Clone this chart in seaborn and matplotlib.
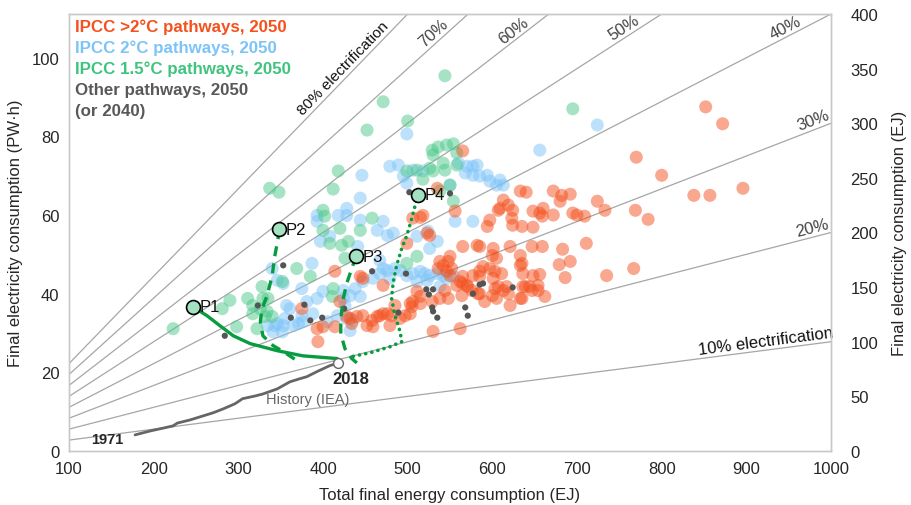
import numpy as np
import matplotlib
matplotlib.use("Agg")
import matplotlib.pyplot as plt
import seaborn as sns

sns.set_style("white")
plt.rcParams['font.family'] = ['Liberation Sans', 'DejaVu Sans']

EJ_PER_PWH = 3.6

# electrification share lines
shares = [0.1, 0.2, 0.3, 0.4, 0.5, 0.6, 0.7, 0.8]
share_labels = ["10% electrification", "20%", "30%", "40%", "50%", "60%", "70%",
                "80% electrification"]
share_label_x = [924, 980, 982, 950, 760, 630, 537, 430]
share_label_size = [12, 12, 12, 12, 12, 12, 12, 11]

# IPCC >2°C pathways (x: TFC EJ, y: electricity PWh)
above2_x = [852, 872, 770, 800, 896, 838, 857,
            633, 640, 672, 682, 680, 692, 724, 733, 769, 784,
            648, 656, 659, 672, 695, 700, 709,
            635, 648, 647, 659, 683, 711, 679, 692, 686, 735, 767,
            635, 636, 648, 656, 636, 644, 647, 654, 635, 662,
            515, 556, 597, 594, 613, 619, 623, 660, 607,
            565, 585, 601, 600, 621, 633, 633,
            611, 601, 603, 597, 589, 585, 585, 577, 565, 562, 558, 570, 576, 585, 591, 600,
            613, 607, 619, 621, 633, 654,
            550, 542, 538, 546, 550, 536, 526, 523, 499,
            538, 529, 515, 506, 505, 497, 491, 479, 481, 471, 530, 562, 503, 544, 564, 548,
            609, 624, 582, 605, 548, 552, 565, 571, 583, 603, 617, 605, 639,
            503, 464, 458, 452, 440, 434, 428, 459, 444, 420, 414, 375, 393, 400, 394, 414,
            447, 471, 432, 447, 467, 476, 485, 511, 515, 506, 518, 535, 565, 624]
above2_y = [87.5, 83.2, 74.7, 70.1, 66.8, 65.0, 65.0,
            66.1, 65.8, 66.1, 65.0, 63.5, 65.3, 63.5, 61.2, 61.2, 58.9,
            61.0, 60.5, 59.7, 60.0, 60.5, 60.0, 59.7,
            57.1, 56.9, 52.0, 52.0, 51.3, 52.8, 47.4, 48.2, 44.1, 44.6, 46.4,
            47.7, 45.1, 44.6, 44.9, 41.8, 41.8, 40.8, 42.1, 38.8, 39.3,
            59.4, 61.0, 58.7, 57.1, 63.8, 62.5, 59.2, 61.7, 61.2,
            52.0, 52.0, 51.5, 49.7, 52.0, 49.7, 47.2,
            45.1, 43.9, 45.7, 46.4, 46.9, 45.7, 44.4, 44.6, 44.4, 43.1, 42.1, 42.1, 40.8, 40.0, 38.0, 39.5,
            40.8, 41.8, 40.0, 37.0, 38.8, 40.8,
            49.5, 47.2, 48.2, 45.7, 44.6, 46.4, 54.8, 55.4, 52.8,
            38.8, 38.0, 39.3, 38.0, 36.7, 34.4, 33.7, 31.9, 34.4, 34.9, 30.4, 31.1, 37.5, 40.8, 39.5, 38.8,
            61.7, 57.4, 52.3, 49.0, 48.2, 46.4, 42.6, 41.8, 40.0, 41.3, 41.8, 38.8, 41.8,
            34.9, 34.2, 33.2, 31.9, 34.2, 32.4, 34.2, 31.6, 44.4, 38.0, 45.7, 36.2, 31.1, 31.6, 27.8, 31.6,
            43.9, 42.1, 33.7, 34.4, 34.4, 34.9, 37.0, 40.6, 37.5, 59.2, 59.9, 66.8, 76.3, 61.2]

# IPCC 2°C pathways
two_x = [499, 446, 479, 489, 495, 499, 560, 568, 577, 582, 594, 597, 609, 613, 550,
         444, 428, 656, 724, 506, 518, 570, 585, 605, 577, 418, 393, 393, 408, 397,
         387, 340, 346, 353, 375, 400, 424, 361, 355, 346, 334, 371, 375, 388, 405,
         417, 428, 381, 393, 424, 441, 467, 357, 343, 353, 365, 376, 341, 352,
         485, 491, 499, 506, 515, 520, 526, 535, 542, 546, 554, 538, 511, 523, 476,
         467, 479, 459, 447, 438, 432, 444, 426, 435, 432, 428, 444, 471, 464, 483,
         511, 524, 535, 526, 556, 577, 476, 471]
two_y = [80.6, 70.1, 72.4, 72.7, 69.9, 68.1, 73.2, 70.7, 72.4, 72.7, 70.1, 68.6, 68.9, 67.6, 67.6,
         64.3, 59.9, 76.5, 82.9, 71.4, 71.2, 72.4, 69.9, 67.6, 70.1, 59.9, 59.9, 58.4, 54.6, 53.3,
         47.7, 46.4, 43.4, 42.6, 41.3, 40.6, 40.8, 36.2, 33.7, 32.4, 31.9, 32.4, 34.4, 34.9, 32.9,
         34.4, 33.7, 38.0, 38.8, 38.8, 52.0, 48.5, 37.0, 31.9, 31.9, 31.9, 32.9, 30.3, 30.3,
         46.4, 45.9, 44.6, 45.1, 45.7, 45.1, 44.6, 45.1, 44.6, 43.9, 44.4, 41.8, 43.1, 43.4, 45.9,
         45.1, 43.9, 43.9, 43.1, 41.3, 39.5, 39.3, 37.0, 33.2, 30.6, 61.7, 58.7, 58.4, 56.1, 55.4,
         54.6, 55.9, 53.3, 51.5, 58.4, 58.4, 54.8, 46.4]

# IPCC 1.5°C pathways
one5_x = [544, 471, 500, 452, 695, 337, 348, 418, 412, 400, 402, 420, 400, 408, 369,
          385, 328, 352, 290, 317, 326, 334, 332, 317, 340, 322, 298, 281, 223, 412,
          411, 426, 422, 458, 444, 430, 499, 511, 529, 536, 546, 554, 558, 530,
          542, 526, 544, 499, 511, 518, 530, 550, 554, 538, 558, 329, 311, 335]
one5_y = [95.4, 88.8, 83.9, 81.6, 87.0, 66.8, 65.8, 71.2, 66.6, 61.2, 59.7, 56.6, 56.1, 52.8, 46.4,
          44.4, 41.8, 43.1, 38.3, 37.0, 36.2, 35.5, 34.2, 34.9, 34.2, 31.1, 31.6, 36.2, 31.1, 41.3,
          39.3, 49.0, 52.3, 59.2, 56.1, 53.3, 47.7, 49.5, 76.5, 77.3, 77.8, 78.1, 75.8, 75.3,
          73.2, 71.9, 71.4, 71.2, 71.4, 69.1, 71.2, 67.6, 63.5, 66.1, 72.7, 38.8, 38.8, 38.8]

# other pathways
other_x = [502, 550, 498, 522, 530, 525, 585, 589, 577, 568, 571, 529, 530, 535, 624,
           489, 458, 425, 353, 323, 378, 362, 385, 399, 284]
other_y = [65.8, 65.5, 45.1, 41.1, 41.1, 39.8, 42.3, 42.6, 40.0, 36.5, 34.4, 36.5, 35.5, 33.9, 41.6,
           35.2, 45.7, 36.2, 47.2, 37.0, 37.2, 33.9, 33.2, 33.9, 29.3]

# IEA history 1971-2018
hist_x = [178, 196, 213, 223, 228, 243, 255, 270, 282, 296, 305, 320, 329, 346, 361, 373, 381, 393, 408, 418]
hist_y = [4.1, 5.1, 5.9, 6.4, 7.1, 7.9, 8.7, 9.7, 10.7, 12.0, 13.3, 14.0, 14.5, 15.8, 17.6, 18.4, 18.9, 20.2, 21.7, 22.4]

# illustrative pathways P1-P4
p1_x = [246, 263, 278, 294, 314, 346, 376, 417]
p1_y = [36.7, 34.4, 31.9, 29.3, 27.3, 25.5, 24.2, 23.5]
p2_x = [348, 347, 343, 340, 334, 328, 326, 329, 341, 353, 369]
p2_y = [56.4, 54.1, 49.5, 44.6, 39.5, 36.2, 32.9, 29.3, 26.8, 25.3, 23.0]
p3_x = [439, 434, 428, 424, 421, 421, 426, 434, 440]
p3_y = [49.5, 46.4, 42.6, 38.8, 33.7, 29.8, 26.0, 23.5, 22.4]
p4_x = [512, 505, 499, 493, 487, 483, 481, 485, 491, 493, 479, 456, 434]
p4_y = [65.1, 59.2, 54.8, 51.5, 47.2, 43.1, 38.8, 34.4, 30.4, 27.8, 26.5, 25.0, 24.0]
p_names = ["P1", "P2", "P3", "P4"]

fig = plt.figure(figsize=(9.12, 5.06), dpi=100)
ax = fig.add_axes([69 / 912, 54 / 506, 762 / 912, 437 / 506])
ax.set_xlim(100, 1000)
ax.set_ylim(0, 400 / EJ_PER_PWH)

line_x = np.array([100, 1000])
for f in shares:
    ax.plot(line_x, f * line_x / EJ_PER_PWH, color="#a6a6a6", lw=0.9, zorder=1)

for f, lab, lx, fs in zip(shares, share_labels, share_label_x, share_label_size):
    ly = f * lx / EJ_PER_PWH
    p0 = ax.transData.transform((lx, ly))
    p1 = ax.transData.transform((lx + 10, f * (lx + 10) / EJ_PER_PWH))
    ang = np.degrees(np.arctan2(p1[1] - p0[1], p1[0] - p0[0]))
    ax.annotate(lab, (lx, ly), xytext=(0, 1.5), textcoords="offset points",
                rotation=ang, rotation_mode="anchor", ha="center", va="bottom",
                fontsize=fs, color="#444444" if len(lab) < 5 else "#111111")

sns.scatterplot(x=two_x, y=two_y, color="#7cc4f8", alpha=0.5, s=88, edgecolor="none", ax=ax, zorder=2)
sns.scatterplot(x=one5_x, y=one5_y, color="#4cc98a", alpha=0.5, s=88, edgecolor="none", ax=ax, zorder=2)
sns.scatterplot(x=above2_x, y=above2_y, color="#f4511e", alpha=0.5, s=88, edgecolor="none", ax=ax, zorder=3)
sns.scatterplot(x=other_x, y=other_y, color="#555555", s=20, edgecolor="none", ax=ax, zorder=4)

ax.plot(hist_x, hist_y, color="#666666", lw=2, zorder=4)
ax.scatter([hist_x[-1]], [hist_y[-1]], s=50, facecolor="white", edgecolor="#666666", lw=1, zorder=6)

green = "#079c40"
ax.plot(p1_x, p1_y, color=green, lw=2.4, zorder=5)
ax.plot(p2_x, p2_y, color=green, lw=2.4, ls=(0, (3, 2.2)), zorder=5)
ax.plot(p3_x, p3_y, color=green, lw=2.4, ls=(0, (3, 2.2)), zorder=5)
ax.plot(p4_x, p4_y, color=green, lw=2.6, ls=(0, (0.05, 1.7)), dash_capstyle="round", zorder=5)

px = [p1_x[0], p2_x[0], p3_x[0], p4_x[0]]
py = [p1_y[0], p2_y[0], p3_y[0], p4_y[0]]
ax.scatter(px, py, s=100, facecolor="#a3e2c0", edgecolor="black", lw=1.2, zorder=7)
for name, x, y in zip(p_names, px, py):
    ax.annotate(name, (x, y), xytext=(5, 0), textcoords="offset points",
                ha="left", va="center", fontsize=12, color="#111111", zorder=8)

ax.annotate("2018", (hist_x[-1], hist_y[-1]), xytext=(9, -11), textcoords="offset points",
            ha="center", va="center", fontsize=12, fontweight="bold")
ax.annotate("History (IEA)", (hist_x[-1], hist_y[-1]), xytext=(-22, -26), textcoords="offset points",
            ha="center", va="center", fontsize=10.5, color="#666666")
ax.annotate("1971", (hist_x[0], hist_y[0]), xytext=(-20, -3), textcoords="offset points",
            ha="center", va="center", fontsize=10.5, fontweight="bold")

legend_items = [("IPCC >2°C pathways, 2050", "#f4511e"),
                ("IPCC 2°C pathways, 2050", "#7cc4f8"),
                ("IPCC 1.5°C pathways, 2050", "#3fc47f"),
                ("Other pathways, 2050", "#595959"),
                ("(or 2040)", "#595959")]
for i, (txt, col) in enumerate(legend_items):
    ax.text(0.008, 0.9725 - i * 0.0485, txt, transform=ax.transAxes, ha="left", va="center",
            fontsize=12.2, fontweight="bold", color=col)

ax.set_xticks(range(100, 1001, 100))
ax.set_yticks(range(0, 101, 20))
ax.tick_params(length=0, labelsize=12, pad=7)
ax.set_xlabel("Total final energy consumption (EJ)", fontsize=12, labelpad=8)
ax.set_ylabel("Final electricity consumption (PW·h)", fontsize=12, labelpad=6)

ax2 = ax.twinx()
ax2.set_ylim(0, 400)
ax2.set_yticks(range(0, 401, 50))
ax2.tick_params(length=0, labelsize=12, pad=14)
ax2.set_ylabel("Final electricity consumption (EJ)", fontsize=12, labelpad=10)

for a in (ax, ax2):
    for sp in a.spines.values():
        sp.set_color("#c8c8c8")
        sp.set_linewidth(1)

fig.savefig("out.png", dpi=100)
